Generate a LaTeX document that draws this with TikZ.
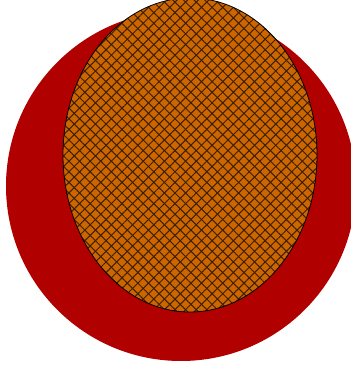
\documentclass[tikz,border=0pt]{standalone}
\usetikzlibrary{patterns.meta}
\definecolor{bigred}{RGB}{176,0,0}
\definecolor{hatchorange}{RGB}{204,102,0}
\definecolor{hatchline}{RGB}{60,30,0}
\begin{document}
\begin{tikzpicture}[x=1pt,y=1pt,
  hatch/.style={pattern={Lines[angle=#1,distance=7.5pt,line width=1pt]},pattern color=hatchline}]
\useasboundingbox (0,0) rectangle (351,368);
\clip (0,0) rectangle (351,368);
\fill[bigred] (181,182) circle[radius=175];
\fill[hatchorange] (190,213) ellipse[x radius=127,y radius=157];
\path[hatch=45] (190,213) ellipse[x radius=127,y radius=157];
\path[hatch=-45] (190,213) ellipse[x radius=127,y radius=157];
\draw[black,line width=0.8pt] (190,213) ellipse[x radius=127,y radius=157];
\end{tikzpicture}
\end{document}
